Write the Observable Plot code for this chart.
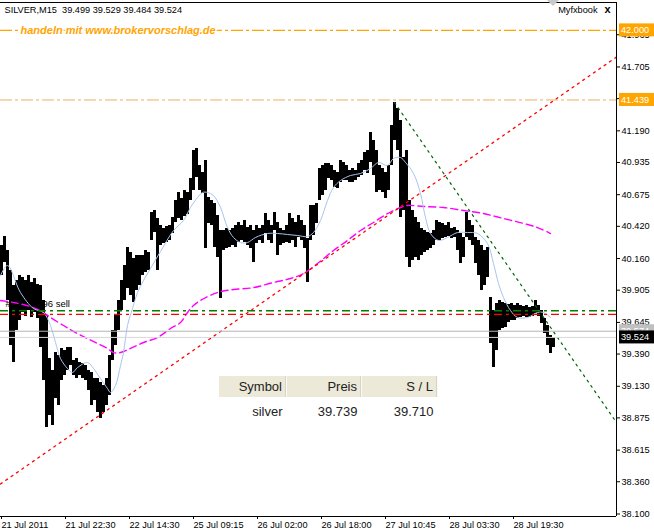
<!DOCTYPE html>
<html><head><meta charset="utf-8">
<script src="https://cdn.jsdelivr.net/npm/d3@7"></script>
<script src="https://cdn.jsdelivr.net/npm/@observablehq/plot@0.6"></script>
<style>
html,body{margin:0;padding:0;background:#fff;}
#wrap{position:relative;width:654px;height:532px;overflow:hidden;}
#tbl{position:absolute;left:219px;top:376px;border-collapse:collapse;font-family:"Liberation Sans",Arial,sans-serif;font-size:13px;color:#222;}
#tbl th{background:#ece9d8;font-weight:normal;height:21px;padding:0 4px 0 0;text-align:right;border-right:1px solid #fbfaf6;box-shadow:inset -1px 0 0 #d8d4c4;}
#tbl td{background:#fff;height:28px;padding:0 4px 0 0;text-align:right;}
</style></head><body><div id="wrap"></div>
<script>
// ---- data ----
const titleText = "SILVER,M15\u00a0\u00a039.499 39.529 39.484 39.524";
const brandText = "handeln mit www.brokervorschlag.de";
const orderText = "#49405796 sell";
const xTickBars = [0, 64, 128, 192, 256, 320, 384, 448, 512];
const xTickLabels = ["21 Jul 2011", "21 Jul 22:30", "22 Jul 14:30", "25 Jul 09:15", "26 Jul 02:00", "26 Jul 18:00", "27 Jul 10:45", "28 Jul 03:30", "28 Jul 19:30"];
const yTicks = [38.100, 38.360, 38.615, 38.875, 39.130, 39.390, 39.645, 39.905, 40.160, 40.420, 40.675, 40.935, 41.190, 41.450, 41.705, 41.965];

// bar highs / lows, one per 3 bars
const barHigh = [
40.265,40.338,40.225,40.064,39.943,39.983,40.023,40.007,39.983,40.023,
39.967,40.000,39.951,39.943,39.822,39.701,39.354,39.257,39.402,39.378,
39.435,39.418,39.443,39.443,39.338,39.354,39.322,39.314,39.297,39.257,
39.241,39.192,39.192,39.160,39.136,39.192,39.378,39.580,39.701,39.822,
39.983,40.104,40.249,40.209,40.160,40.185,40.185,40.185,40.225,40.209,
40.531,40.548,40.483,40.427,40.402,40.418,40.427,40.491,40.628,40.693,
40.644,40.709,40.693,40.806,41.031,41.047,40.910,40.854,40.951,40.652,
40.628,40.604,40.507,40.386,40.386,40.402,40.386,40.402,40.427,40.451,
40.427,40.467,40.410,40.427,40.386,40.427,40.402,40.427,40.523,40.467,
40.427,40.531,40.451,40.402,40.386,40.427,40.523,40.483,40.451,40.507,
40.467,40.427,40.322,40.588,40.588,40.604,40.886,40.910,40.926,40.926,
40.910,40.870,40.854,40.951,40.935,40.910,40.870,40.886,40.870,40.926,
40.951,41.015,41.031,41.176,41.112,41.031,40.910,40.886,40.854,40.910,
41.233,41.418,41.370,41.273,40.975,41.031,40.628,40.548,40.491,40.451,
40.402,40.386,40.370,40.362,40.386,40.467,40.451,40.443,40.427,40.451,
40.402,40.410,40.386,40.362,40.330,40.531,40.467,40.427,40.330,40.306,
40.265,40.225,40.249,39.846,39.741,39.798,39.822,39.806,39.798,39.789,
39.798,39.781,39.798,39.781,39.773,39.781,39.765,39.773,39.822,39.781,
39.741,39.676,39.620,39.540,39.523];
const barLow = [
40.023,40.128,39.822,39.459,39.322,39.580,39.660,39.725,39.693,39.741,
39.685,39.725,39.676,39.443,39.176,38.797,38.894,38.814,39.031,38.975,
39.176,39.217,39.257,39.297,39.217,39.192,39.217,39.192,39.176,39.096,
38.975,39.015,38.918,38.870,38.918,38.975,39.055,39.338,39.459,39.580,
39.741,39.822,39.919,39.862,39.806,39.902,39.943,40.023,40.047,40.064,
40.306,40.370,40.064,40.265,40.281,40.289,40.306,40.362,40.451,40.483,
40.467,40.499,40.515,40.628,40.709,40.814,40.709,40.685,40.241,40.443,
40.427,40.249,40.168,39.838,40.225,40.241,40.249,40.265,40.249,40.289,
40.306,40.289,40.265,40.241,40.128,40.281,40.306,40.281,40.362,40.306,
40.281,40.386,40.185,40.265,40.281,40.289,40.281,40.306,40.249,40.330,
40.306,40.241,39.967,40.306,40.346,40.443,40.628,40.668,40.709,40.806,
40.789,40.733,40.725,40.773,40.789,40.789,40.773,40.773,40.789,40.814,
40.830,40.870,40.846,40.935,40.830,40.693,40.709,40.693,40.644,40.709,
40.910,41.112,41.031,40.491,40.548,40.168,40.088,40.144,40.168,40.144,
40.185,40.209,40.225,40.241,40.265,40.306,40.306,40.322,40.330,40.338,
40.322,40.330,40.225,40.120,40.168,40.330,40.306,40.265,40.120,40.023,
39.902,39.943,40.007,39.475,39.281,39.418,39.580,39.596,39.604,39.644,
39.660,39.660,39.676,39.685,39.693,39.685,39.685,39.693,39.717,39.693,
39.636,39.556,39.459,39.394,39.443];

// fast moving average (light blue)
const fastMaBar = [0,7,20,33,43,50,55,60,67,72,77,87,93,100,107,110,115,120,123,127,132,137,143,150,160,173,183,190,197,202,207,213,220,227,233,240,247,255,267,277,287,297,307,313,320,327,333,340,350,360,370,378,387,393,400,405,413,420,425,430,438,447,457,467,477,487,493,498,503,510,517,527,537,543,550];
const fastMa = [40.023,40.104,39.886,39.757,39.725,39.620,39.483,39.354,39.273,39.241,39.281,39.322,39.273,39.192,39.112,39.080,39.136,39.297,39.402,39.620,39.757,39.886,39.983,40.080,40.217,40.386,40.467,40.572,40.652,40.693,40.693,40.668,40.572,40.410,40.330,40.289,40.289,40.330,40.362,40.362,40.354,40.346,40.338,40.370,40.467,40.628,40.733,40.789,40.830,40.846,40.886,40.935,40.910,40.967,40.975,40.935,40.846,40.685,40.491,40.362,40.306,40.330,40.370,40.370,40.362,40.281,40.120,39.959,39.846,39.741,39.685,39.685,39.725,39.725,39.685];

// slow moving average (magenta)
const slowMaBar = [0,13,33,43,50,63,73,87,97,107,113,120,130,143,157,170,180,187,193,200,217,233,253,273,290,303,317,333,347,360,373,387,400,407,423,443,463,483,503,523,537,550];
const slowMa = [39.822,39.806,39.765,39.725,39.685,39.620,39.572,39.515,39.475,39.435,39.402,39.402,39.435,39.483,39.523,39.596,39.644,39.725,39.781,39.822,39.886,39.910,39.926,39.967,39.999,40.039,40.120,40.225,40.306,40.386,40.451,40.523,40.572,40.588,40.580,40.572,40.548,40.523,40.483,40.443,40.410,40.362];

// trend lines
const redTrendBar = [0, 616];
const redTrendPrice = [38.342, 41.785];
const greenTrendBar = [394, 616];
const greenTrendPrice = [41.418, 38.838];

// horizontal levels
const levelTop = 42.000;
const levelHigh = 41.439;
const openPrice = 39.739;
const stopLoss = 39.710;
const askPrice = 39.574;
const bidPrice = 39.524;

const tableHeaders = ["Symbol", "Preis", "S / L"];
const tableRow = ["silver", "39.739", "39.710"];

// ---- chart ----
const xDomain = [0, 616];
const yDomain = [38.0798, 42.225];
const bars = barHigh.map((h, i) => ({bar: 1 + 3 * i, high: h, low: barLow[i]}));
const fast = fastMaBar.map((b, i) => ({bar: b, v: fastMa[i]}));
const slow = slowMaBar.map((b, i) => ({bar: b, v: slowMa[i]}));
const redT = redTrendBar.map((b, i) => ({bar: b, v: redTrendPrice[i]}));
const greenT = greenTrendBar.map((b, i) => ({bar: b, v: greenTrendPrice[i]}));
const font = "'Liberation Sans', Arial, sans-serif";

const chart = Plot.plot({
  width: 654, height: 532,
  marginLeft: 0, marginRight: 38, marginTop: 2, marginBottom: 16,
  style: {fontFamily: font, fontSize: "9.2px", background: "white", color: "black", overflow: "visible"},
  x: {domain: xDomain, label: null},
  y: {domain: yDomain, label: null},
  marks: [
    Plot.text([orderText], {y: [openPrice], frameAnchor: "left", dx: 5, dy: -7, textAnchor: "start", fill: "black", fontSize: 9.5}),
    Plot.ruleX(bars, {x: "bar", y1: "low", y2: "high", stroke: "black", strokeWidth: 3, shapeRendering: "crispEdges"}),
    Plot.line(slow, {x: "bar", y: "v", stroke: "#ff00ff", strokeWidth: 1.4, strokeDasharray: "7,4", curve: "catmull-rom"}),
    Plot.line(fast, {x: "bar", y: "v", stroke: "#a8c4ee", strokeWidth: 1, curve: "catmull-rom"}),
    Plot.line(redT, {x: "bar", y: "v", stroke: "#ff0000", strokeWidth: 1.3, strokeDasharray: "2,4.5", clip: true}),
    Plot.line(greenT, {x: "bar", y: "v", stroke: "#006400", strokeWidth: 1.2, strokeDasharray: "2,4.5", clip: true}),
    Plot.ruleY([levelTop], {stroke: "#ffa500", strokeWidth: 1.2, strokeDasharray: "12,3,3,3"}),
    Plot.ruleY([levelHigh], {stroke: "#e8b060", strokeWidth: 1, strokeDasharray: "12,3,3,3"}),
    Plot.ruleY([openPrice], {stroke: "#008000", strokeWidth: 1.4, strokeDasharray: "8,4,3,4"}),
    Plot.ruleY([stopLoss], {stroke: "#ff0000", strokeWidth: 1.4, strokeDasharray: "8,4,3,4"}),
    Plot.ruleY([askPrice], {stroke: "#b4b4b4", strokeWidth: 1}),
    Plot.ruleY([bidPrice], {stroke: "#d8d8d8", strokeWidth: 1}),
    Plot.text([brandText], {y: [levelTop], frameAnchor: "left", dx: 20, textAnchor: "start", fill: "#ffa500", stroke: "white", strokeWidth: 3, fontWeight: "bold", fontStyle: "italic", fontSize: 11}),
    Plot.text([titleText], {frameAnchor: "top-left", dx: 4, dy: 8, textAnchor: "start", lineAnchor: "middle", fill: "black"}),
    Plot.text(["Myfxbook"], {frameAnchor: "top-right", dx: -19, dy: 8, textAnchor: "end", lineAnchor: "middle", fill: "black"}),
    Plot.text(["x"], {frameAnchor: "top-right", dx: -6, dy: 7, textAnchor: "end", lineAnchor: "middle", fill: "black", fontWeight: "bold", fontSize: 11}),
    Plot.ruleY([yDomain[1]], {stroke: "black"}),
    Plot.ruleY([yDomain[0]], {stroke: "black"}),
    Plot.ruleX([xDomain[1]], {stroke: "black"}),
    Plot.axisY({anchor: "right", ticks: yTicks, tickFormat: d3.format(".3f"), tickSize: 3, tickPadding: 2, fill: "black", stroke: "black"}),
    Plot.axisX({anchor: "bottom", ticks: xTickBars, tickFormat: d => xTickLabels[xTickBars.indexOf(d)], tickSize: 3, tickPadding: 2, textAnchor: "start", dx: 1, fill: "black", stroke: "black"})
  ]
});
const wrap = document.getElementById("wrap");
wrap.appendChild(chart);

// price tags on the right axis, placed through the plot's own scales
const ys = chart.scale("y"), xs = chart.scale("x");
const yf = ys.apply ? v => ys.apply(v) : d3.scaleLinear(ys.domain, ys.range);
const xf = xs.apply ? v => xs.apply(v) : d3.scaleLinear(xs.domain, xs.range);
const tags = [
  {price: levelTop, bg: "#ffa500", fg: "white"},
  {price: levelHigh, bg: "#ffa500", fg: "white"},
  {price: askPrice, bg: "#c0c0c0", fg: "white"},
  {price: bidPrice, bg: "black", fg: "white"}
];
const svg = d3.select(chart);
const g = svg.append("g").attr("font-family", font).attr("font-size", "9.2px").attr("text-anchor", "start");
const ax = xf(xDomain[1]);
tags.forEach(t => {
  const yy = yf(t.price);
  g.append("rect").attr("x", ax + 3).attr("y", yy - 6.5).attr("width", 654 - ax - 3).attr("height", 13).attr("fill", t.bg);
  g.append("text").attr("x", ax + 5).attr("y", yy).attr("dy", "0.35em").attr("text-anchor", "start").attr("fill", t.fg).text(d3.format(".3f")(t.price));
});
// chart-shift marker at the last bar
const lastX = xf(bars[bars.length - 1].bar);
g.append("polygon").attr("points", `${lastX - 6},0 ${lastX + 6},0 ${lastX},6`).attr("fill", "#c8c8c8");

// order table
const tbl = document.createElement("table");
tbl.id = "tbl";
const widths = [68, 75, 76];
const hr = tbl.insertRow();
tableHeaders.forEach((h, i) => { const th = document.createElement("th"); th.textContent = h; th.style.width = (widths[i] - 5) + "px"; hr.appendChild(th); });
const br = tbl.insertRow();
tableRow.forEach(v => { const td = br.insertCell(); td.textContent = v; });
wrap.appendChild(tbl);
</script>
</body></html>
